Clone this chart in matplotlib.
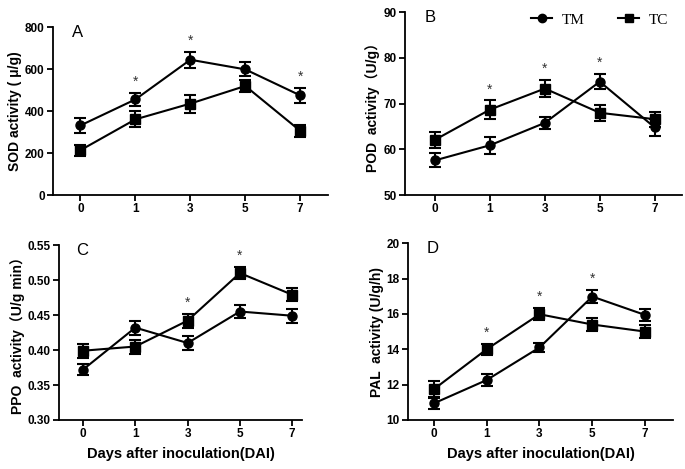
import numpy as np
import matplotlib.pyplot as plt
from matplotlib.lines import Line2D

days = ['0', '1', '3', '5', '7']

sod_tm = [332, 456, 645, 599, 475]
sod_tm_err = [37, 32, 38, 33, 37]
sod_tc = [214, 361, 436, 520, 306]
sod_tc_err = [26, 38, 43, 28, 30]
sod_star = [1, 3, 7]

pod_tm = [57.6, 60.9, 65.8, 74.8, 64.8]
pod_tm_err = [1.5, 1.9, 1.3, 1.6, 1.9]
pod_tc = [62.1, 68.7, 73.3, 68.0, 66.6]
pod_tc_err = [1.7, 2.0, 1.9, 1.7, 1.6]
pod_star = [1, 3, 5]

ppo_tm = [0.372, 0.432, 0.410, 0.455, 0.449]
ppo_tm_err = [0.008, 0.010, 0.010, 0.009, 0.010]
ppo_tc = [0.399, 0.405, 0.442, 0.510, 0.479]
ppo_tc_err = [0.010, 0.010, 0.010, 0.008, 0.009]
ppo_star = [3, 5]

pal_tm = [10.94, 12.26, 14.1, 16.98, 15.94]
pal_tm_err = [0.3, 0.35, 0.25, 0.35, 0.35]
pal_tc = [11.74, 14.0, 15.98, 15.4, 15.0]
pal_tc_err = [0.45, 0.3, 0.35, 0.35, 0.35]
pal_star = [1, 3, 5]

plt.rcParams['font.family'] = ['Liberation Sans', 'Noto Sans CJK SC']

fig = plt.figure(figsize=(6.85, 4.69), dpi=100)

panels = [
    # rect, tm, tm_err, tc, tc_err, stars, ylim, yticks, ylabel, letter, xlim, xlabel, fmt
    ([0.0774, 0.584, 0.401, 0.358], sod_tm, sod_tm_err, sod_tc, sod_tc_err, sod_star,
     (0, 800), [0, 200, 400, 600, 800], 'SOD activity ( μ/g)', 'A', (-0.5, 4.5), False, '%d'),
    ([0.591, 0.584, 0.404, 0.390], pod_tm, pod_tm_err, pod_tc, pod_tc_err, pod_star,
     (50, 90), [50, 60, 70, 80, 90], 'POD  activity（U/g）', 'B', (-0.55, 4.49), False, '%d'),
    ([0.0861, 0.1045, 0.355, 0.373], ppo_tm, ppo_tm_err, ppo_tc, ppo_tc_err, ppo_star,
     (0.30, 0.55), [0.30, 0.35, 0.40, 0.45, 0.50, 0.55], 'PPO  activity（U/g min）', 'C', (-0.46, 4.19), True, '%.2f'),
    ([0.5956, 0.1045, 0.387, 0.377], pal_tm, pal_tm_err, pal_tc, pal_tc_err, pal_star,
     (10, 20), [10, 12, 14, 16, 18, 20], 'PAL  activity (U/g/h)', 'D', (-0.49, 4.53), True, '%d'),
]

x = np.arange(len(days))
for rect, tm, tm_err, tc, tc_err, stars, ylim, yticks, ylabel, letter, xlim, show_xlabel, fmt in panels:
    ax = fig.add_axes(rect)
    ax.errorbar(x, tm, yerr=tm_err, color='black', marker='o', markersize=6.5, lw=1.5,
                capsize=4, elinewidth=1.5, capthick=1.5)
    ax.errorbar(x, tc, yerr=tc_err, color='black', marker='s', markersize=7, lw=1.5,
                capsize=4, elinewidth=1.5, capthick=1.5)
    for d in stars:
        i = days.index(str(d))
        top = max(tm[i] + tm_err[i], tc[i] + tc_err[i])
        ax.annotate('*', (i, top), xytext=(0, 3), textcoords='offset points',
                    ha='center', va='bottom', fontsize=10, color='#333333')
    ax.set_xlim(*xlim)
    ax.set_ylim(*ylim)
    ax.set_xticks(x)
    ax.set_xticklabels(days)
    ax.set_yticks(yticks)
    ax.set_yticklabels([fmt % v for v in yticks])
    for s in ['top', 'right']:
        ax.spines[s].set_visible(False)
    for s in ['left', 'bottom']:
        ax.spines[s].set_linewidth(1.3)
    ax.tick_params(width=1.3, length=4, labelsize=8.5, pad=2)
    for lab in ax.get_xticklabels() + ax.get_yticklabels():
        lab.set_fontweight('bold')
    ax.set_ylabel(ylabel, fontsize=10, fontweight='bold', labelpad=2)
    ax.text(0.07, 0.97, letter, transform=ax.transAxes, fontsize=12, va='center', ha='left')
    if show_xlabel:
        ax.set_xlabel('Days after inoculation(DAI)', fontsize=10.5, fontweight='bold', labelpad=5)
    if letter == 'B':
        handles = [Line2D([], [], color='black', marker='o', markersize=6, lw=1.5),
                   Line2D([], [], color='black', marker='s', markersize=6, lw=1.5)]
        ax.legend(handles, ['TM', 'TC'], loc='upper right', bbox_to_anchor=(1.0, 1.07), ncol=2,
                  frameon=False, prop={'family': 'Liberation Serif', 'size': 11},
                  handlelength=1.4, columnspacing=2.2, handletextpad=0.6)

fig.savefig('out.png', dpi=100)
